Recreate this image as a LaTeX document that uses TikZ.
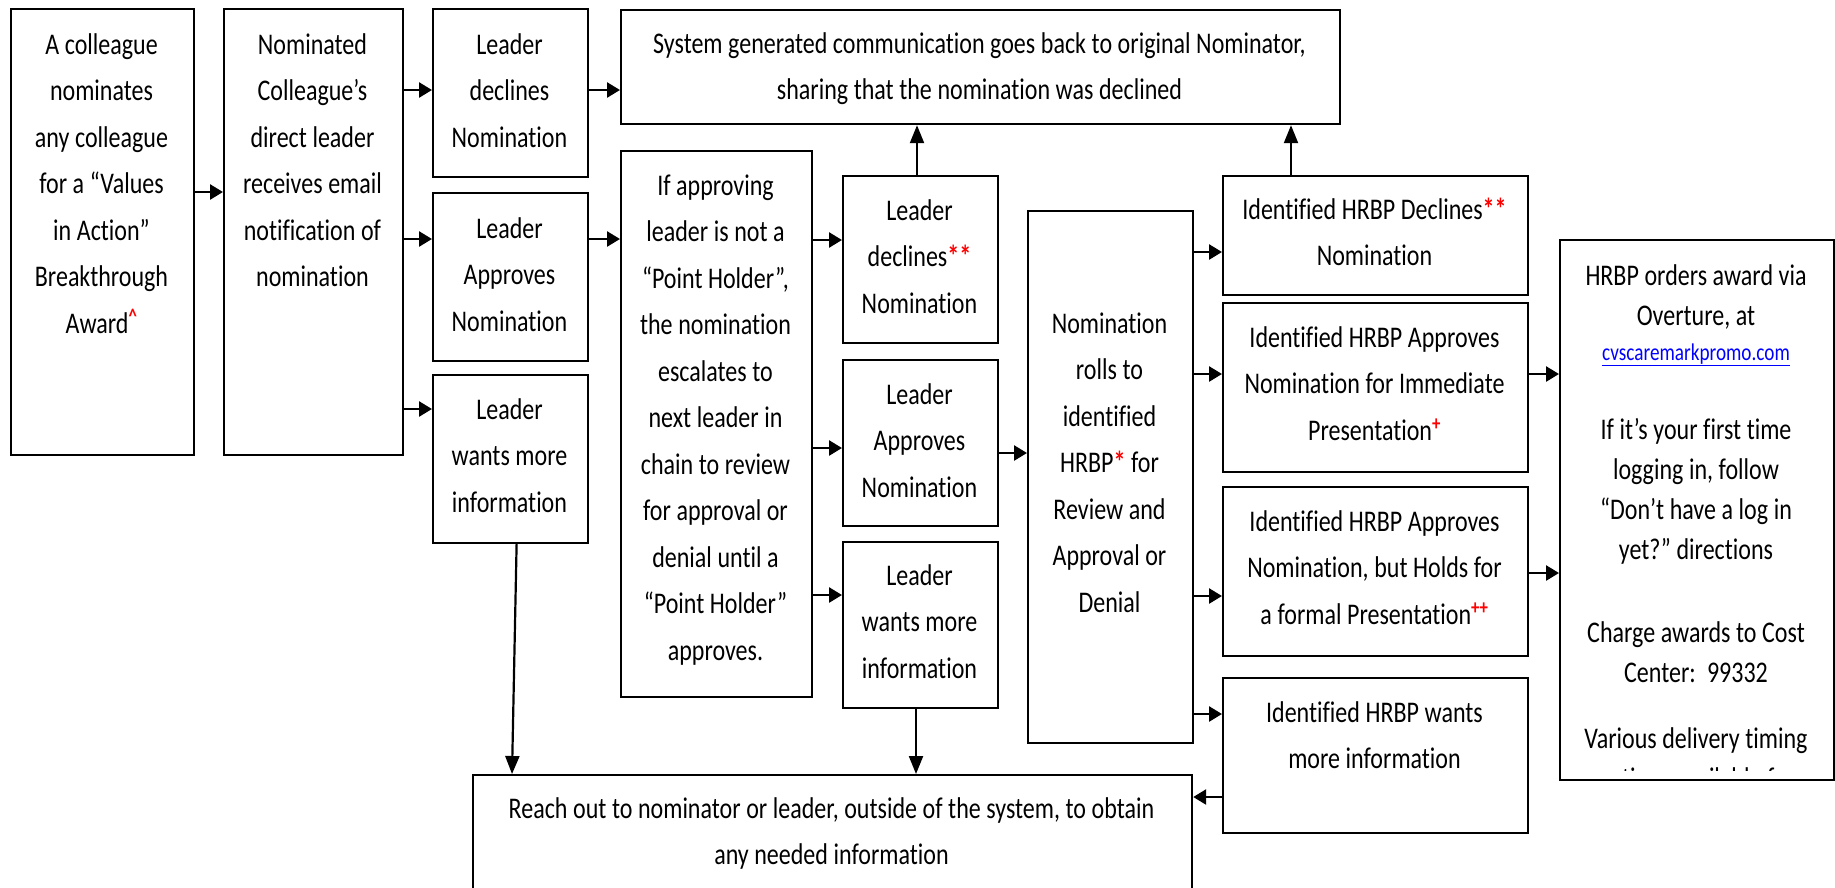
\documentclass[tikz,border=0pt]{standalone}
\usepackage{fontspec}
\usepackage{xcolor}
\usetikzlibrary{arrows.meta,calc}
\setmainfont[FakeStretch=0.8, Ligatures={NoCommon}, Contextuals={NoAlternate}]{Carlito}
\newcommand\redmk[1]{\textcolor{red}{\bfseries #1}}
\newcommand\redsup[1]{\textsuperscript{\textcolor{red}{\bfseries #1}}}
\newcommand\setsp{\spaceskip=5.6pt\relax\xspaceskip=5.6pt\relax}
\begin{document}
\begin{tikzpicture}[x=1pt,y=-1pt,
  box/.style={draw=black, line width=2.2pt, anchor=north west, inner sep=0pt},
  txt/.style={anchor=base, align=flush center, text width=720pt, inner sep=0pt,
              font=\fontsize{30pt}{46.5pt}\selectfont\setsp},
  txtr/.style={anchor=base, align=flush center, text width=720pt, inner sep=0pt,
              font=\fontsize{30pt}{40pt}\selectfont\setsp},
  harr/.style={line width=2.6pt, -{Triangle[length=13pt,width=15pt]}},
  varr/.style={line width=2.2pt, -{Triangle[length=18pt,width=14pt]}}]
\useasboundingbox[fill=white] (0,0) rectangle (1835,887);

% boxes
\node[box, minimum width=183pt, minimum height=446pt] (b1) at (10,8) {};
\node[box, minimum width=179pt, minimum height=446pt] (b2) at (223,8) {};
\node[box, minimum width=155pt, minimum height=168pt] (b3) at (432,8) {};
\node[box, minimum width=155pt, minimum height=168pt] (b4) at (432,192) {};
\node[box, minimum width=155pt, minimum height=168pt] (b5) at (432,374) {};
\node[box, minimum width=719pt, minimum height=114pt] (top) at (620,9) {};
\node[box, minimum width=191pt, minimum height=546pt] (ifap) at (620,150) {};
\node[box, minimum width=155pt, minimum height=167pt] (ld2) at (842,175) {};
\node[box, minimum width=155pt, minimum height=166pt] (la2) at (842,359) {};
\node[box, minimum width=155pt, minimum height=166pt] (lw2) at (842,541) {};
\node[box, minimum width=165pt, minimum height=532pt] (nr) at (1027,210) {};
\node[box, minimum width=305pt, minimum height=119pt] (hd) at (1222,175) {};
\node[box, minimum width=305pt, minimum height=169pt] (ha) at (1222,302) {};
\node[box, minimum width=305pt, minimum height=169pt] (hh) at (1222,486) {};
\node[box, minimum width=305pt, minimum height=155pt] (hw) at (1222,677) {};
\node[box, minimum width=274pt, minimum height=540pt] (rb) at (1559,239) {};
\node[box, minimum width=719pt, minimum height=130pt] (ro) at (472,774) {};

% texts
\node[txt] (t1) at (101.5,54) {A colleague\\nominates\\any colleague\\for a “Values\\in Action”\\Breakthrough\\Award\redsup{\textasciicircum}};
\node[txt] (t2) at (312.5,54) {Nominated\\Colleague’s\\direct leader\\receives email\\notification of\\nomination};
\node[txt] (t3) at (509.5,54) {Leader\\declines\\Nomination};
\node[txt] (t4) at (509.5,238) {Leader\\Approves\\Nomination};
\node[txt] (t5) at (509.5,419) {Leader\\wants more\\information};
\node[txt] (ttop) at (979.5,53) {System generated communication goes back to original Nominator,\\sharing that the nomination was declined};
\node[txt] (tifap) at (715.5,195) {If approving\\leader is not a\\“Point Holder”,\\the nomination\\escalates to\\next leader in\\chain to review\\for approval or\\denial until a\\“Point Holder”\\approves.};
\node[txt] (tld2) at (919.5,220) {Leader\\declines\redmk{**}\\Nomination};
\node[txt] (tla2) at (919.5,404) {Leader\\Approves\\Nomination};
\node[txt] (tlw2) at (919.5,585) {Leader\\wants more\\information};
\node[txt] (tnr) at (1109.5,333) {Nomination\\rolls to\\identified\\HRBP\redmk{*} for\\Review and\\Approval or\\Denial};
\node[txt] (thd) at (1374.5,219) {Identified HRBP Declines\redmk{**}\\Nomination};
\node[txt] (tha) at (1374.5,347) {Identified HRBP Approves\\Nomination for Immediate\\Presentation\redsup{+}};
\node[txt] (thh) at (1374.5,531) {Identified HRBP Approves\\Nomination, but Holds for\\a formal Presentation\redsup{++}};
\node[txt] (thw) at (1374.5,722) {Identified HRBP wants\\more information};
\node[txt] (tro) at (831.5,818) {Reach out to nominator or leader, outside of the system, to obtain\\any needed information};
\begin{scope}
\clip (1560,240) rectangle (1832,770);
\node[txtr] (trb) at (1696,285) {HRBP orders award via\\Overture, at\\[-5pt]
{\fontsize{24pt}{30pt}\selectfont\textcolor{blue}{\underline{cvscaremarkpromo.com}}}\\[39pt]
If it’s your first time\\logging in, follow\\“Don’t have a log in\\yet?” directions\\[43pt]
Charge awards to Cost\\Center:\ \ 99332\\[26pt]
Various delivery timing\\options available for};
\end{scope}

% connectors
\draw[harr] (b1.east |- 0,192) -- (b2.west |- 0,192);
\draw[harr] (b2.east |- 0,90) -- (b3.west |- 0,90);
\draw[harr] (b2.east |- 0,239) -- (b4.west |- 0,239);
\draw[harr] (b2.east |- 0,409) -- (b5.west |- 0,409);
\draw[harr] (b3.east |- 0,90) -- (top.west |- 0,90);
\draw[harr] (b4.east |- 0,239) -- (ifap.west |- 0,239);
\draw[varr] ($(b5.south)+(6,0)$) -- ($(ro.north west)+(40,0)$);
\draw[harr] (ifap.east |- 0,240) -- (ld2.west |- 0,240);
\draw[harr] (ifap.east |- 0,448) -- (la2.west |- 0,448);
\draw[harr] (ifap.east |- 0,595) -- (lw2.west |- 0,595);
\draw[varr] (ld2.north -| 917,0) -- (top.south -| 917,0);
\draw[harr] (la2.east |- 0,453) -- (nr.west |- 0,453);
\draw[varr] (lw2.south -| 916,0) -- (ro.north -| 916,0);
\draw[harr] (nr.east |- 0,252) -- (hd.west |- 0,252);
\draw[harr] (nr.east |- 0,374) -- (ha.west |- 0,374);
\draw[harr] (nr.east |- 0,596) -- (hh.west |- 0,596);
\draw[harr] (nr.east |- 0,714) -- (hw.west |- 0,714);
\draw[varr] (hd.north -| 1291,0) -- (top.south -| 1291,0);
\draw[harr] (ha.east |- 0,374) -- (rb.west |- 0,374);
\draw[harr] (hh.east |- 0,573) -- (rb.west |- 0,573);
\draw[harr] (hw.west |- 0,797) -- (ro.east |- 0,797);
\end{tikzpicture}
\end{document}
